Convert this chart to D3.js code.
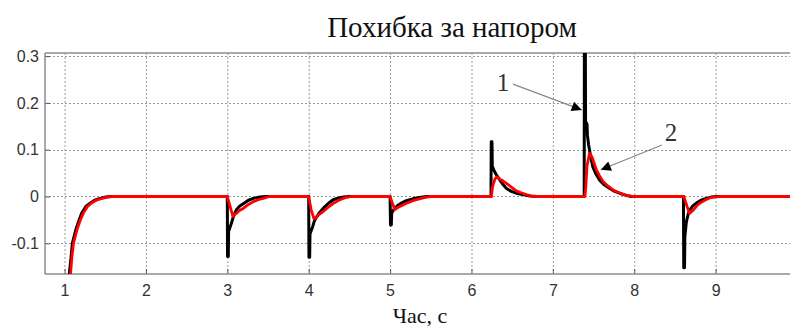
<!DOCTYPE html>
<html>
<head>
<meta charset="utf-8">
<script src="https://cdn.jsdelivr.net/npm/d3@7"></script>
<style>
  body { margin: 0; background: #fff; }
</style>
</head>
<body>
<div class="chart"></div>
<script>
// Series values: [time, error]
const seriesBlack = [
    [1.00, -0.40], [1.059, -0.165], [1.08, -0.13], [1.096, -0.10], [1.14, -0.07], [1.18, -0.05], [1.21, -0.036],
    [1.26, -0.022], [1.31, -0.015], [1.37, -0.008], [1.436, -0.004], [1.51, -0.001], [1.57, 0],
    [3.00, 0], [3.003, -0.128], [3.012, -0.128], [3.016, -0.075], [3.05, -0.057], [3.08, -0.04], [3.11, -0.029],
    [3.15, -0.021], [3.20, -0.015], [3.26, -0.008], [3.32, -0.004], [3.40, -0.001], [3.48, 0],
    [4.00, 0], [4.003, -0.13], [4.012, -0.13], [4.016, -0.08], [4.05, -0.064], [4.07, -0.052], [4.10, -0.043],
    [4.14, -0.033], [4.18, -0.025], [4.24, -0.015], [4.30, -0.007], [4.37, -0.003], [4.43, -0.001], [4.50, 0],
    [5.00, 0], [5.005, -0.061], [5.015, -0.061], [5.02, -0.035], [5.05, -0.027], [5.09, -0.02], [5.14, -0.014],
    [5.20, -0.009], [5.28, -0.005], [5.36, -0.002], [5.45, 0],
    [6.24, 0], [6.243, 0.117], [6.252, 0.117], [6.256, 0.065], [6.274, 0.057], [6.30, 0.048], [6.35, 0.035],
    [6.39, 0.025], [6.43, 0.017], [6.49, 0.011], [6.55, 0.007], [6.63, 0.004], [6.72, 0.001], [6.80, 0],
    [7.385, 0], [7.388, 0.40], [7.398, 0.40], [7.402, 0.16], [7.42, 0.155], [7.425, 0.13], [7.44, 0.11],
    [7.45, 0.10], [7.47, 0.08], [7.49, 0.064], [7.53, 0.048], [7.575, 0.035], [7.63, 0.025], [7.70, 0.017],
    [7.76, 0.011], [7.82, 0.007], [7.89, 0.003], [7.96, 0],
    [8.605, 0], [8.608, -0.152], [8.618, -0.152], [8.622, -0.085], [8.64, -0.055], [8.66, -0.04], [8.68, -0.029],
    [8.72, -0.02], [8.763, -0.014], [8.82, -0.008], [8.886, -0.004], [8.95, -0.001], [9.01, 0],
    [10.0, 0]
];

const seriesRed = [
    [1.00, -0.40], [1.074, -0.165], [1.09, -0.13], [1.11, -0.10], [1.155, -0.07], [1.195, -0.05], [1.23, -0.036],
    [1.28, -0.022], [1.33, -0.014], [1.39, -0.008], [1.46, -0.004], [1.54, -0.001], [1.60, 0],
    [3.00, 0], [3.04, -0.025], [3.07, -0.043], [3.11, -0.036], [3.15, -0.03], [3.20, -0.025], [3.26, -0.017],
    [3.32, -0.011], [3.38, -0.007], [3.44, -0.004], [3.52, 0],
    [4.00, 0], [4.03, -0.028], [4.065, -0.048], [4.10, -0.043], [4.14, -0.037], [4.18, -0.032], [4.24, -0.023],
    [4.30, -0.015], [4.37, -0.008], [4.44, -0.003], [4.52, 0],
    [5.00, 0], [5.03, -0.015], [5.058, -0.028], [5.10, -0.023], [5.16, -0.018], [5.22, -0.013], [5.28, -0.009],
    [5.36, -0.005], [5.43, -0.002], [5.50, 0],
    [6.245, 0], [6.26, 0.022], [6.29, 0.038], [6.314, 0.042], [6.35, 0.037], [6.39, 0.033], [6.43, 0.028],
    [6.49, 0.02], [6.55, 0.012], [6.61, 0.008], [6.675, 0.004], [6.76, 0],
    [7.395, 0], [7.405, 0.02], [7.42, 0.065], [7.45, 0.092], [7.48, 0.085], [7.51, 0.07], [7.535, 0.057],
    [7.575, 0.044], [7.616, 0.032], [7.68, 0.022], [7.74, 0.014], [7.80, 0.009], [7.86, 0.005], [7.92, 0.002],
    [7.98, 0],
    [8.61, 0], [8.65, -0.022], [8.68, -0.036], [8.72, -0.03], [8.763, -0.021], [8.80, -0.015], [8.84, -0.011],
    [8.89, -0.006], [8.94, -0.002], [9.00, -0.001], [9.07, 0],
    [10.0, 0]
];

const xTicks = [1, 2, 3, 4, 5, 6, 7, 8, 9];
const yTicks = [-0.1, 0, 0.1, 0.2, 0.3];
const yTickLabels = ["-0.1", "0", "0.1", "0.2", "0.3"];

const titleText = "Похибка за напором";
const xLabelText = "Час, с";

// Callouts: arrow tail and tip in data units
const calloutLabels = ["1", "2"];
const calloutTails = [[6.51, 0.240], [8.34, 0.110]];
const calloutTips = [[7.355, 0.185], [7.59, 0.057]];

// Chart dimensions
const W = 790, H = 328;
const plot = { left: 45, top: 53, right: 797, bottom: 274 };

const svg = d3.select(".chart")
    .append("svg")
    .attr("width", W)
    .attr("height", H);

const xScale = d3.scaleLinear()
    .domain([0.76, 10])
    .range([plot.left, plot.right]);

const yScale = d3.scaleLinear()
    .domain([-0.1656, 0.3066])
    .range([plot.bottom, plot.top]);

// Title
svg.append("text")
    .attr("x", 452)
    .attr("y", 37)
    .attr("text-anchor", "middle")
    .style("font-family", "'Liberation Serif', 'Times New Roman', serif")
    .style("font-size", "29px")
    .attr("fill", "#111")
    .text(titleText);

// Dotted grid
const grid = svg.append("g").attr("class", "grid");
grid.selectAll(".vgrid")
    .data(xTicks)
    .enter()
    .append("line")
    .attr("x1", d => xScale(d) + 0.5)
    .attr("x2", d => xScale(d) + 0.5)
    .attr("y1", plot.top)
    .attr("y2", plot.bottom)
    .attr("stroke", "#9a9a9a")
    .attr("stroke-width", 1)
    .attr("stroke-dasharray", "2,2");

grid.selectAll(".hgrid")
    .data(yTicks)
    .enter()
    .append("line")
    .attr("x1", plot.left)
    .attr("x2", W)
    .attr("y1", d => Math.round(yScale(d)) + 0.5)
    .attr("y2", d => Math.round(yScale(d)) + 0.5)
    .attr("stroke", "#9a9a9a")
    .attr("stroke-width", 1)
    .attr("stroke-dasharray", "2,2");

// Axes (MATLAB style, ticks pointing in)
const xAxis = svg.append("g")
    .attr("transform", `translate(0, ${plot.bottom})`)
    .call(d3.axisBottom(xScale).tickValues(xTicks).tickSize(-5).tickPadding(11).tickFormat(d3.format("d")));

const yAxis = svg.append("g")
    .attr("transform", `translate(${plot.left}, 0)`)
    .call(d3.axisLeft(yScale).tickValues(yTicks).tickSize(-5).tickPadding(6)
        .tickFormat((d, i) => yTickLabels[i]));

[xAxis, yAxis].forEach(a => {
    a.select(".domain").remove();
    a.selectAll(".tick line").attr("stroke", "#555");
    a.selectAll("text")
        .attr("fill", "#333")
        .style("font-family", "'Liberation Sans', Arial, sans-serif")
        .style("font-size", "16px");
});

// Frame lines
svg.append("line")
    .attr("x1", plot.left).attr("x2", W)
    .attr("y1", plot.top).attr("y2", plot.top)
    .attr("stroke", "#8c8c8c").attr("stroke-width", 1.5);
svg.append("line")
    .attr("x1", plot.left).attr("x2", W)
    .attr("y1", plot.bottom).attr("y2", plot.bottom)
    .attr("stroke", "#8c8c8c").attr("stroke-width", 1.5);
svg.append("line")
    .attr("x1", plot.left).attr("x2", plot.left)
    .attr("y1", plot.top).attr("y2", plot.bottom)
    .attr("stroke", "#8c8c8c").attr("stroke-width", 1.5);

// Clip to plot area
svg.append("defs").append("clipPath")
    .attr("id", "plotClip")
    .append("rect")
    .attr("x", plot.left)
    .attr("y", plot.top)
    .attr("width", W - plot.left)
    .attr("height", plot.bottom - plot.top);

const line = d3.line()
    .x(d => xScale(d[0]))
    .y(d => yScale(d[1]));

const lines = svg.append("g").attr("clip-path", "url(#plotClip)");

lines.append("path")
    .datum(seriesBlack)
    .attr("fill", "none")
    .attr("stroke", "#000")
    .attr("stroke-width", 3)
    .attr("stroke-linejoin", "round")
    .attr("d", line);

lines.append("path")
    .datum(seriesRed)
    .attr("fill", "none")
    .attr("stroke", "#f00")
    .attr("stroke-width", 2.8)
    .attr("stroke-linejoin", "round")
    .attr("d", line);

// Callout arrows
svg.select("defs").append("marker")
    .attr("id", "arrowHead")
    .attr("viewBox", "0 0 10 10")
    .attr("refX", 10)
    .attr("refY", 5)
    .attr("markerWidth", 13)
    .attr("markerHeight", 10)
    .attr("markerUnits", "userSpaceOnUse")
    .attr("orient", "auto")
    .append("path")
    .attr("d", "M0,0 L10,5 L0,10 Z")
    .attr("fill", "#000");

svg.selectAll(".callout-line")
    .data(calloutLabels)
    .enter()
    .append("line")
    .attr("x1", (d, i) => xScale(calloutTails[i][0]))
    .attr("y1", (d, i) => yScale(calloutTails[i][1]))
    .attr("x2", (d, i) => xScale(calloutTips[i][0]))
    .attr("y2", (d, i) => yScale(calloutTips[i][1]))
    .attr("stroke", "#888")
    .attr("stroke-width", 1.2)
    .attr("marker-end", "url(#arrowHead)");

// label sits just beyond the tail of its arrow
svg.selectAll(".callout-label")
    .data(calloutLabels)
    .enter()
    .append("text")
    .attr("x", (d, i) => xScale(calloutTails[i][0]) + (i === 0 ? -10 : 9))
    .attr("y", (d, i) => yScale(calloutTails[i][1]) + (i === 0 ? 7 : -4))
    .attr("text-anchor", "middle")
    .style("font-family", "'Liberation Serif', 'Times New Roman', serif")
    .style("font-size", "25px")
    .attr("fill", "#333")
    .text(d => d);

// X-axis label
svg.append("text")
    .attr("x", 420)
    .attr("y", 323)
    .attr("text-anchor", "middle")
    .style("font-family", "'Liberation Serif', 'Times New Roman', serif")
    .style("font-size", "22px")
    .attr("fill", "#111")
    .text(xLabelText);
</script>
</body>
</html>
